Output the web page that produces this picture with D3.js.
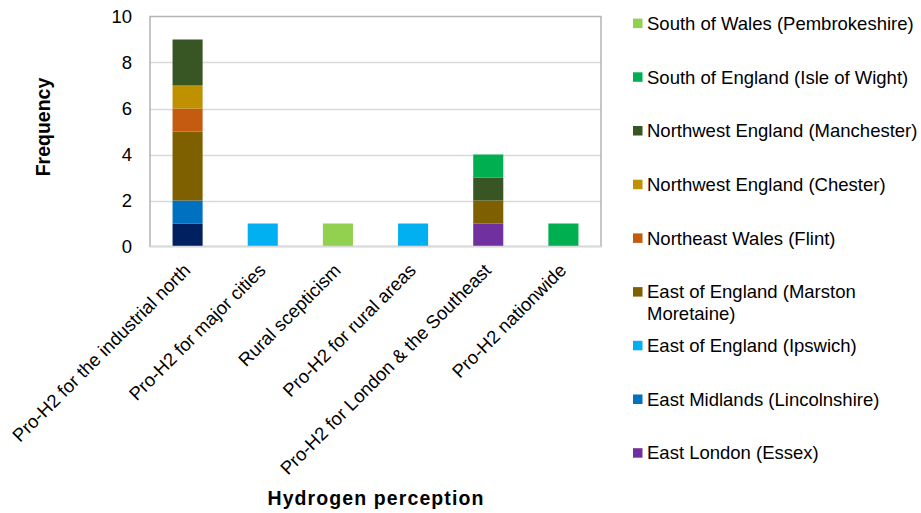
<!DOCTYPE html>
<html>
<head>
<meta charset="utf-8">
<script src="https://cdn.jsdelivr.net/npm/d3@7"></script>
<style>
  html, body { margin: 0; padding: 0; background: #fff; }
  svg { display: block; font-family: "Liberation Sans", Arial, sans-serif; }
</style>
</head>
<body>
<svg id="chart" width="921" height="513"></svg>
<script>
// Perception categories along the x axis
const categories = [
  "Pro-H2 for the industrial north",
  "Pro-H2 for major cities",
  "Rural scepticism",
  "Pro-H2 for rural areas",
  "Pro-H2 for London & the Southeast",
  "Pro-H2 nationwide"
];

// Series in stacking order (bottom to top); values per category
const seriesNames = [
  "North East England (Teesside)",
  "East London (Essex)",
  "East Midlands (Lincolnshire)",
  "East of England (Ipswich)",
  "East of England (Marston Moretaine)",
  "Northeast Wales (Flint)",
  "Northwest England (Chester)",
  "Northwest England (Manchester)",
  "South of England (Isle of Wight)",
  "South of Wales (Pembrokeshire)"
];
const teesside      = [1, 0, 0, 0, 0, 0];
const essex         = [0, 0, 0, 0, 1, 0];
const lincolnshire  = [1, 0, 0, 0, 0, 0];
const ipswich       = [0, 1, 0, 1, 0, 0];
const marston       = [3, 0, 0, 0, 1, 0];
const flint         = [1, 0, 0, 0, 0, 0];
const chester       = [1, 0, 0, 0, 0, 0];
const manchester    = [2, 0, 0, 0, 1, 0];
const isleOfWight   = [0, 0, 0, 0, 1, 1];
const pembrokeshire = [0, 0, 1, 0, 0, 0];
const seriesValues = [teesside, essex, lincolnshire, ipswich, marston,
                      flint, chester, manchester, isleOfWight, pembrokeshire];
const seriesColors = ["#002060", "#7030A0", "#0070C0", "#00B0F0", "#7F6000",
                      "#C55A11", "#BF9000", "#375623", "#00B050", "#92D050"];

// Legend entries, top to bottom (the list runs past the bottom edge)
const legendNames = [
  "South of Wales (Pembrokeshire)",
  "South of England (Isle of Wight)",
  "Northwest England (Manchester)",
  "Northwest England (Chester)",
  "Northeast Wales (Flint)",
  ["East of England (Marston", "Moretaine)"],
  "East of England (Ipswich)",
  "East Midlands (Lincolnshire)",
  "East London (Essex)"
];
const legendKeys = [
  "South of Wales (Pembrokeshire)",
  "South of England (Isle of Wight)",
  "Northwest England (Manchester)",
  "Northwest England (Chester)",
  "Northeast Wales (Flint)",
  "East of England (Marston Moretaine)",
  "East of England (Ipswich)",
  "East Midlands (Lincolnshire)",
  "East London (Essex)"
];

const yTicks = [0, 2, 4, 6, 8, 10];

// Build row objects for d3.stack
const rows = categories.map((c, i) => {
  const r = { category: c };
  seriesNames.forEach((s, j) => { r[s] = seriesValues[j][i]; });
  return r;
});
const stacked = d3.stack().keys(seriesNames)(rows);
const color = d3.scaleOrdinal().domain(seriesNames).range(seriesColors);

const svg = d3.select("#chart");
const plot = { left: 150, top: 16.5, right: 601, bottom: 246.5 };

const x = d3.scaleBand().domain(categories)
  .range([plot.left, plot.right]).paddingInner(0.6).paddingOuter(0.3);
const y = d3.scaleLinear().domain([0, 10]).range([plot.bottom, plot.top]);

// Gridlines
svg.append("g").selectAll("line").data(yTicks.filter(t => t > 0 && t < 10)).join("line")
  .attr("x1", plot.left).attr("x2", plot.right)
  .attr("y1", d => Math.round(y(d)) + 0.5).attr("y2", d => Math.round(y(d)) + 0.5)
  .attr("stroke", "#d9d9d9").attr("stroke-width", 1.5);

// Plot frame
svg.append("rect")
  .attr("x", plot.left).attr("y", plot.top)
  .attr("width", plot.right - plot.left).attr("height", plot.bottom - plot.top)
  .attr("fill", "none").attr("stroke", "#b4b4b4").attr("stroke-width", 1.5);

// Stacked bars
svg.append("g").selectAll("g").data(stacked).join("g")
  .attr("fill", d => color(d.key))
  .selectAll("rect").data(d => d.filter(p => p[1] > p[0])).join("rect")
  .attr("x", d => x(d.data.category))
  .attr("width", x.bandwidth())
  .attr("y", d => y(d[1]))
  .attr("height", d => y(d[0]) - y(d[1]));

// Bottom axis line
svg.append("line")
  .attr("x1", plot.left).attr("x2", plot.right)
  .attr("y1", plot.bottom).attr("y2", plot.bottom)
  .attr("stroke", "#d9d9d9").attr("stroke-width", 1.5);

// Y axis labels
const yAxis = d3.axisLeft(y).tickValues(yTicks).tickSize(0).tickPadding(18);
const yg = svg.append("g").attr("transform", `translate(${plot.left},0)`).call(yAxis);
yg.select(".domain").remove();
yg.selectAll("text").attr("font-size", "18.5px").attr("fill", "#000")
  .attr("font-family", "Liberation Sans, Arial, sans-serif");

// X axis labels, rotated
const xAxis = d3.axisBottom(x).tickSize(0).tickPadding(0);
const xg = svg.append("g").attr("transform", `translate(0,${plot.bottom})`).call(xAxis);
xg.select(".domain").remove();
xg.selectAll("text")
  .attr("font-size", "18.5px").attr("fill", "#000")
  .attr("font-family", "Liberation Sans, Arial, sans-serif")
  .attr("text-anchor", "end")
  .attr("y", 0).attr("dy", 0)
  .attr("transform", "translate(4,25) rotate(-45)");

// Axis titles
svg.append("text")
  .attr("x", 376).attr("y", 505)
  .attr("text-anchor", "middle")
  .attr("font-size", "19.5px").attr("font-weight", "bold").attr("fill", "#000")
  .attr("letter-spacing", "1.1px")
  .text("Hydrogen perception");

svg.append("text")
  .attr("transform", "translate(50,127) rotate(-90)")
  .attr("text-anchor", "middle")
  .attr("font-size", "19.5px").attr("font-weight", "bold").attr("fill", "#000")
  .text("Frequency");

// Legend
const legend = svg.append("g").attr("transform", "translate(633,0)");
const rowStep = 53.7;
legendKeys.forEach((key, i) => {
  const cy = 23.3 + i * rowStep;
  const g = legend.append("g");
  g.append("rect")
    .attr("x", 0).attr("y", cy - 4.7).attr("width", 9.5).attr("height", 9.5)
    .attr("fill", color(key));
  const lines = Array.isArray(legendNames[i]) ? legendNames[i] : [legendNames[i]];
  const t = g.append("text")
    .attr("x", 14).attr("y", cy + 6.5)
    .attr("font-size", "18.5px").attr("fill", "#000");
  lines.forEach((ln, k) => {
    t.append("tspan").attr("x", 14).attr("dy", k === 0 ? 0 : 21.6).text(ln);
  });
});
</script>
</body>
</html>
